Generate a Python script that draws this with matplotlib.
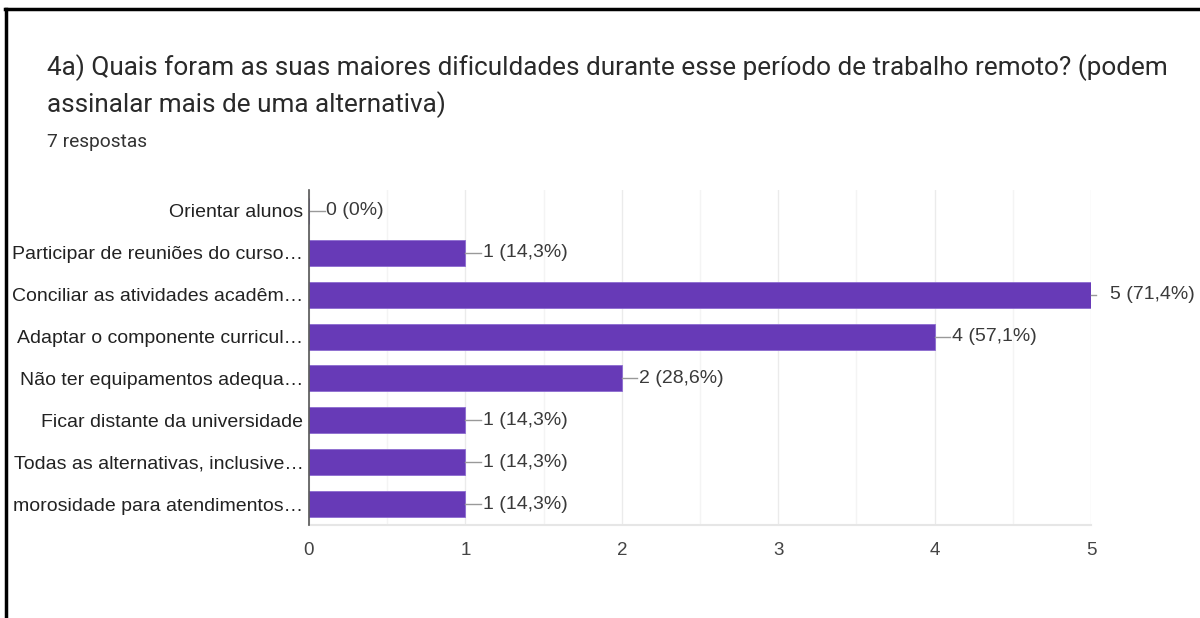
import matplotlib
matplotlib.use("Agg")
import matplotlib.pyplot as plt
from matplotlib.lines import Line2D
from matplotlib.ticker import MultipleLocator

categories = [
    "Orientar alunos",
    "Participar de reuniões do curso…",
    "Conciliar as atividades acadêm…",
    "Adaptar o componente curricul…",
    "Não ter equipamentos adequa…",
    "Ficar distante da universidade",
    "Todas as alternativas, inclusive…",
    "morosidade para atendimentos…",
]
counts = [0, 1, 5, 4, 2, 1, 1, 1]
percents = ["0%", "14,3%", "71,4%", "57,1%", "28,6%", "14,3%", "14,3%", "14,3%"]
xticks = [0, 1, 2, 3, 4, 5]

title_lines = [
    "4a) Quais foram as suas maiores dificuldades durante esse período de trabalho remoto? (podem",
    "assinalar mais de uma alternativa)",
]
subtitle = "7 respostas"

BAR = "#673ab7"
TXT = "#3a3a3a"

fig = plt.figure(figsize=(12, 6.18), dpi=100)
fig.patch.set_facecolor("white")

# frame lines along the top and left edges
fig.add_artist(Line2D([0.005, 0.005], [0, 0.986], transform=fig.transFigure,
                      color="black", lw=2.5))
fig.add_artist(Line2D([0.004, 1.0], [0.985, 0.985], transform=fig.transFigure,
                      color="black", lw=2.5))

for line, ypx in zip(title_lines, [68, 105]):
    fig.text(47 / 1200, 1 - ypx / 618, line, fontsize=18.8, family="Roboto",
             color="#2a2a2a", va="center", ha="left")
fig.text(47 / 1200, 1 - 142 / 618, subtitle, fontsize=13.8, family="Roboto",
         color="#333333", va="center", ha="left")

ax = fig.add_axes([309 / 1200, 1 - 525 / 618, 782 / 1200, 335 / 618])
y = list(range(len(categories)))
ax.barh(y, counts, height=0.62, color=BAR, edgecolor="#8c6bd0", linewidth=0.6, zorder=3)

ax.set_xlim(0, 5)
ax.set_ylim(len(categories) - 0.5, -0.5)
ax.set_xticks(xticks)
ax.set_xticklabels([str(t) for t in xticks], family="Liberation Sans", fontsize=13.5, color="#444444")
ax.xaxis.set_minor_locator(MultipleLocator(0.5))
ax.set_yticks(y)
ax.set_yticklabels(categories, family="Liberation Sans", fontsize=14, color="#222222")
ax.tick_params(axis="y", length=0, pad=4)
ax.tick_params(axis="x", which="both", length=0, pad=12)

ax.grid(axis="x", which="major", color="#ebebeb", lw=1, zorder=0)
ax.grid(axis="x", which="minor", color="#f4f4f4", lw=1, zorder=0)
for side in ("top", "right"):
    ax.spines[side].set_visible(False)
ax.spines["bottom"].set_color("#e6e6e6")
ax.spines["bottom"].set_linewidth(1.5)
ax.spines["left"].set_color("#555555")
ax.spines["left"].set_linewidth(1.2)
ax.spines["left"].set_zorder(4)

vmax = max(counts)
for yi, c, p in zip(y, counts, percents):
    label = f"{c} ({p})"
    if c == vmax:
        ax.plot([c, c + 0.03], [yi, yi], color="#999999", lw=1, clip_on=False, zorder=4)
        ax.text(c + 0.12, yi, label, va="center", ha="left", fontsize=14,
                family="Liberation Sans", color=TXT, clip_on=False)
    else:
        ax.plot([c, c + 0.1], [yi, yi], color="#999999", lw=1, clip_on=False, zorder=4)
        ax.text(c + 0.11, yi, label, va="center", ha="left", fontsize=14,
                family="Liberation Sans", color=TXT, clip_on=False)

fig.savefig("out.png", dpi=100, facecolor="white")
